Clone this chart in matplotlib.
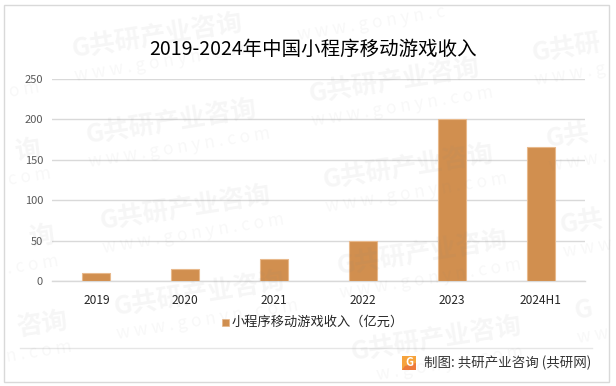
import math
import matplotlib
matplotlib.use("Agg")
import matplotlib.pyplot as plt
from matplotlib.patches import Rectangle, Polygon

plt.rcParams['font.family'] = ['Noto Sans CJK SC', 'DejaVu Sans']

categories = ['2019', '2020', '2021', '2022', '2023', '2024H1']
revenue = [10, 15, 27, 50, 200, 166]
y_ticks = [0, 50, 100, 150, 200, 250]
series_name = '小程序移动游戏收入（亿元）'
title_text = '2019-2024年中国小程序移动游戏收入'
source_text = '制图: 共研产业咨询 (共研网)'
BAR = '#D18F4F'
BAR_EDGE = '#E8B98C'
GRID = '#D9D9D9'

W, H = 616, 386
fig = plt.figure(figsize=(W / 100, H / 100), dpi=100, facecolor='white')

def px(x, y):
    return x / W, 1 - y / H

L, R, T, B = 52, 585, 79, 281
ax = fig.add_axes([L / W, 1 - B / H, (R - L) / W, (B - T) / H])
ax.patch.set_alpha(0)
ax.bar(categories, revenue, width=0.315, color=BAR, edgecolor=BAR_EDGE, linewidth=0.8, zorder=3)
ax.set_xlim(-0.5, 5.5)
ax.set_ylim(0, 250)
ax.set_yticks(y_ticks)
ax.grid(axis='y', color=GRID, linewidth=1, zorder=0)
ax.set_axisbelow(True)
for s in ['top', 'right', 'left']:
    ax.spines[s].set_visible(False)
ax.spines['bottom'].set_color(GRID)
ax.spines['bottom'].set_linewidth(1)
ax.tick_params(axis='both', length=0)
ax.tick_params(axis='y', labelsize=8, labelcolor='#595959', pad=6.5)
ax.tick_params(axis='x', labelsize=8.6, labelcolor='#262626', pad=9.5)

# Outer border and footer rule
fig.add_artist(Rectangle(px(3.5, 381.5), 605 / W, 377 / H, transform=fig.transFigure,
                         fill=False, edgecolor='#D9D9D9', linewidth=1))
fig.add_artist(plt.Line2D([px(20, 0)[0], px(592, 0)[0]], [px(0, 348)[1]] * 2,
                          color='#E6E6E6', linewidth=1))

# Title
x, y = px(313, 49)
fig.text(x, y, title_text, fontsize=14, color='black', ha='center', va='center')

# Legend
fig.add_artist(Rectangle(px(222, 326), 7 / W, 7 / H, transform=fig.transFigure,
                         facecolor=BAR, edgecolor=BAR_EDGE, linewidth=0.5))
x, y = px(232, 322)
fig.text(x, y, series_name, fontsize=9.5, color='#262626', ha='left', va='center')

# Footer logo and text
fig.add_artist(Rectangle(px(402, 370), 14 / W, 14 / H, transform=fig.transFigure,
                         facecolor='#F6A33C', edgecolor='none'))
fig.add_artist(Polygon([px(402, 370), px(416, 370), px(416, 363), px(405, 366)],
                       transform=fig.transFigure, facecolor='#EE7A3A', edgecolor='none'))
x, y = px(409, 363)
fig.text(x, y, 'G', fontsize=8, fontweight='bold', color='white', ha='center', va='center')
x, y = px(424, 363)
fig.text(x, y, source_text, fontsize=9.7, color='#333333', ha='left', va='center')

# Repeating watermark: keep only the characters that lie on the canvas
ANGLE = 9
def watermark(chars, step, sx, sy, alpha, **kw):
    c, s = math.cos(math.radians(ANGLE)), math.sin(math.radians(ANGLE))
    keep = []
    for n, ch in enumerate(chars):
        cx = sx + n * step * c
        cy = sy - n * step * s
        ok = 4 <= cx and cx + step + 4 <= W and step / 2 + 6 <= cy <= H - step / 2 - 6
        keep.append((ok, cx, cy))
    idx = [n for n, k in enumerate(keep) if k[0]]
    if not idx:
        return
    a, b = idx[0], idx[-1]
    text = ''.join(chars[a:b + 1]).strip()
    if not text:
        return
    x, y = px(keep[a][1], keep[a][2])
    fig.text(x, y, text, color='#808080', alpha=alpha, rotation=ANGLE,
             rotation_mode='anchor', ha='left', va='center', zorder=10, **kw)

for i in range(-1, 4):
    for j in range(-1, 5):
        gx = 72 + 237 * i + 14 * j
        gy = 50 + 45 * i + 86 * j
        watermark(list('G共研产业咨询'), 25.5, gx, gy, 0.07, fontsize=18.5, fontweight='bold')
        watermark(list('w w w . g o n y n . c o m'), 7.6, gx + 3, gy + 26, 0.06, fontsize=12.5)

fig.savefig('out.png', dpi=100, facecolor='white')
